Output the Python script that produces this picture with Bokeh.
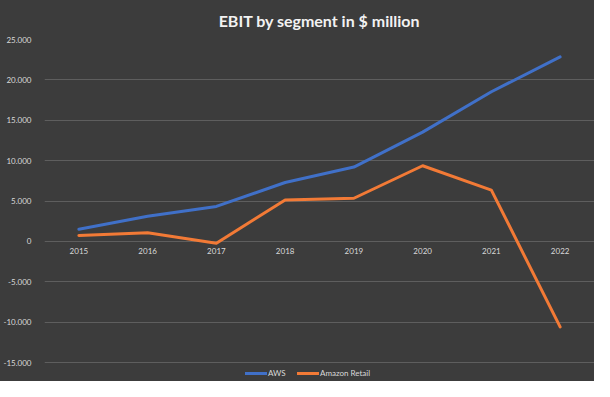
from bokeh.plotting import figure
from bokeh.models import FactorRange, Range1d, Legend, LegendItem, FixedTicker
from bokeh.embed import file_html
from bokeh.resources import INLINE
from bokeh.core.properties import value

years = ["2015", "2016", "2017", "2018", "2019", "2020", "2021", "2022"]
aws = [1507, 3108, 4331, 7296, 9201, 13531, 18532, 22841]
retail = [726, 1078, -225, 5125, 5340, 9368, 6347, -10593]
y_ticks = [-15000, -10000, -5000, 0, 5000, 10000, 15000, 20000, 25000]
y_tick_labels = ["-15.000", "-10.000", "-5.000", "0", "5.000", "10.000", "15.000", "20.000", "25.000"]
zero_line = [0] * len(years)

BG = "#3c3c3c"
TXT = "#d9d9d9"
FONT = "Lato"

p = figure(width=594, height=381,
           x_range=FactorRange(factors=years), y_range=Range1d(-17350, 25000),
           output_backend="svg", toolbar_location=None,
           min_border_left=40, min_border_right=0, min_border_top=38, min_border_bottom=0)

p.background_fill_alpha = 0
p.border_fill_alpha = 0
p.styles = {"background-color": BG}
p.outline_line_color = None

p.title.text = "EBIT by segment in $ million"
p.title.align = "center"
p.title.text_color = "#f2f2f2"
p.title.text_font = FONT
p.title.text_font_size = "16px"
p.title.text_font_style = "bold"
p.title.standoff = 18
p.title.vertical_align = "middle"

p.xaxis.visible = False
p.xgrid.visible = False

p.yaxis.ticker = FixedTicker(ticks=y_ticks)
p.yaxis.major_label_overrides = dict(zip(y_ticks, y_tick_labels))
p.yaxis.axis_line_color = None
p.yaxis.major_tick_line_color = None
p.yaxis.minor_tick_line_color = None
p.yaxis.major_label_text_color = TXT
p.yaxis.major_label_text_font = FONT
p.yaxis.major_label_text_font_size = "8px"
p.yaxis.major_label_standoff = 7
p.ygrid.grid_line_color = "#5e5e5e"
p.ygrid.grid_line_width = 1

p.text(x=years, y=zero_line, text=years, text_align="center", text_baseline="top",
       y_offset=7, text_color=TXT, text_font=value(FONT), text_font_size="8px")

r_aws = p.line(years, aws, line_width=3, line_color="#4070C8", line_join="round", line_cap="round")
r_ret = p.line(years, retail, line_width=3, line_color="#F27A36", line_join="round", line_cap="round")

legend = Legend(items=[LegendItem(label="AWS", renderers=[r_aws]),
                       LegendItem(label="Amazon Retail", renderers=[r_ret])],
                orientation="horizontal", location=(199, 1),
                background_fill_alpha=0, border_line_alpha=0,
                label_text_color=TXT, label_text_font=FONT, label_text_font_size="8px",
                glyph_width=22, glyph_height=8, label_height=8, label_standoff=1,
                padding=2, spacing=9, margin=0)
p.add_layout(legend)

open("out.html", "w").write(file_html(p, INLINE))
